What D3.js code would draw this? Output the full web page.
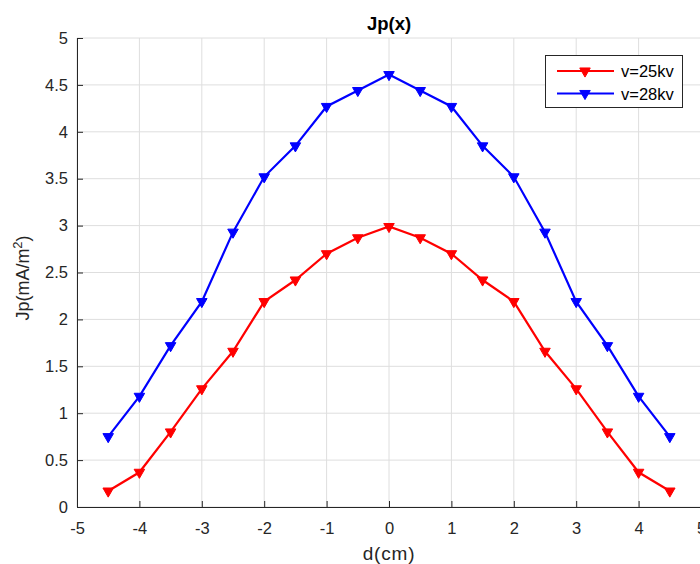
<!DOCTYPE html>
<html><head><meta charset="utf-8">
<script src="https://cdn.jsdelivr.net/npm/d3@7"></script>
<style>body{margin:0;background:#fff;overflow:hidden}svg{display:block;font-family:"Liberation Sans",Arial,sans-serif}</style>
</head><body>
<script>
const xs = [-4.5,-4,-3.5,-3,-2.5,-2,-1.5,-1,-0.5,0,0.5,1,1.5,2,2.5,3,3.5,4,4.5];
const v25 = [0.17,0.37,0.80,1.26,1.66,2.19,2.42,2.70,2.87,2.99,2.87,2.70,2.42,2.19,1.66,1.26,0.80,0.37,0.17];
const v28 = [0.75,1.18,1.72,2.19,2.93,3.52,3.85,4.27,4.44,4.61,4.44,4.27,3.85,3.52,2.93,2.19,1.72,1.18,0.75];
const seriesNames = ["v=25kv","v=28kv"];
const seriesColors = ["#ff0000","#0000ff"];
const xTicks = [-5,-4,-3,-2,-1,0,1,2,3,4,5];
const yTicks = [0,0.5,1,1.5,2,2.5,3,3.5,4,4.5,5];

const W=700,H=564;
const svg=d3.select("body").append("svg").attr("width",W).attr("height",H);
const x=d3.scaleLinear().domain([-5,5]).range([77,701]);
const y=d3.scaleLinear().domain([0,5]).range([507,38]);

// grid
svg.append("g").selectAll("line").data(xTicks).join("line")
 .attr("x1",d=>x(d)).attr("x2",d=>x(d)).attr("y1",y(0)).attr("y2",y(5))
 .attr("stroke","#dedede").attr("stroke-width",1);
svg.append("g").selectAll("line").data(yTicks).join("line")
 .attr("x1",x(-5)).attr("x2",x(5)).attr("y1",d=>y(d)).attr("y2",d=>y(d))
 .attr("stroke","#dedede").attr("stroke-width",1);

// axes
const xa=svg.append("g").attr("transform",`translate(0,${y(0)})`)
 .call(d3.axisBottom(x).tickValues(xTicks).tickSize(-6).tickPadding(15).tickFormat(d=>String(d)));
const ya=svg.append("g").attr("transform",`translate(${x(-5)},0)`)
 .call(d3.axisLeft(y).tickValues(yTicks).tickSize(-6).tickPadding(9).tickFormat(d=>String(d)));
[xa,ya].forEach(a=>{
 a.select(".domain").attr("stroke","#262626").attr("stroke-width",1);
 a.selectAll(".tick line").attr("stroke","#262626");
 a.selectAll(".tick text").attr("fill","#262626").style("font-size","16.5px").style("font-family","'Liberation Sans',Arial,sans-serif");
});

const tri=d3.symbol().type(d3.symbolTriangle).size(48);
[v25,v28].forEach((vals,i)=>{
 const data=xs.map((d,j)=>[d,vals[j]]);
 svg.append("path").datum(data)
  .attr("d",d3.line().x(d=>x(d[0])).y(d=>y(d[1])))
  .attr("fill","none").attr("stroke",seriesColors[i]).attr("stroke-width",2.2);
 svg.append("g").selectAll("path").data(data).join("path")
  .attr("d",tri).attr("transform",d=>`translate(${x(d[0])},${y(d[1])}) rotate(180)`)
  .attr("fill",seriesColors[i]).attr("stroke",seriesColors[i]);
});

// title & labels
svg.append("text").attr("x",389).attr("y",30).attr("text-anchor","middle")
 .style("font-size","18.5px").style("font-weight","bold").attr("fill","#000").text("Jp(x)");
svg.append("text").attr("x",389).attr("y",560).attr("text-anchor","middle")
 .style("font-size","19px").style("letter-spacing","0.8px").attr("fill","#262626").text("d(cm)");
const yl=svg.append("text").attr("transform",`translate(29,278) rotate(-90)`).attr("text-anchor","middle")
 .style("font-size","18px").attr("fill","#262626");
yl.append("tspan").text("Jp(mA/m");
yl.append("tspan").attr("dy",-7).style("font-size","13px").text("2");
yl.append("tspan").attr("dy",7).text(")");

// legend
const lg=svg.append("g");
lg.append("rect").attr("x",545.5).attr("y",55.5).attr("width",137).attr("height",52)
 .attr("fill","#fff").attr("stroke","#262626").attr("stroke-width",1);
seriesNames.forEach((n,i)=>{
 const yy=71+i*22.5;
 lg.append("line").attr("x1",557).attr("x2",614).attr("y1",yy).attr("y2",yy)
  .attr("stroke",seriesColors[i]).attr("stroke-width",2.2);
 lg.append("path").attr("d",tri).attr("transform",`translate(585,${yy}) rotate(180)`)
  .attr("fill",seriesColors[i]).attr("stroke",seriesColors[i]);
 lg.append("text").attr("x",621).attr("y",yy+6).style("font-size","16.5px").attr("fill","#000").text(n);
});
</script>
</body></html>
